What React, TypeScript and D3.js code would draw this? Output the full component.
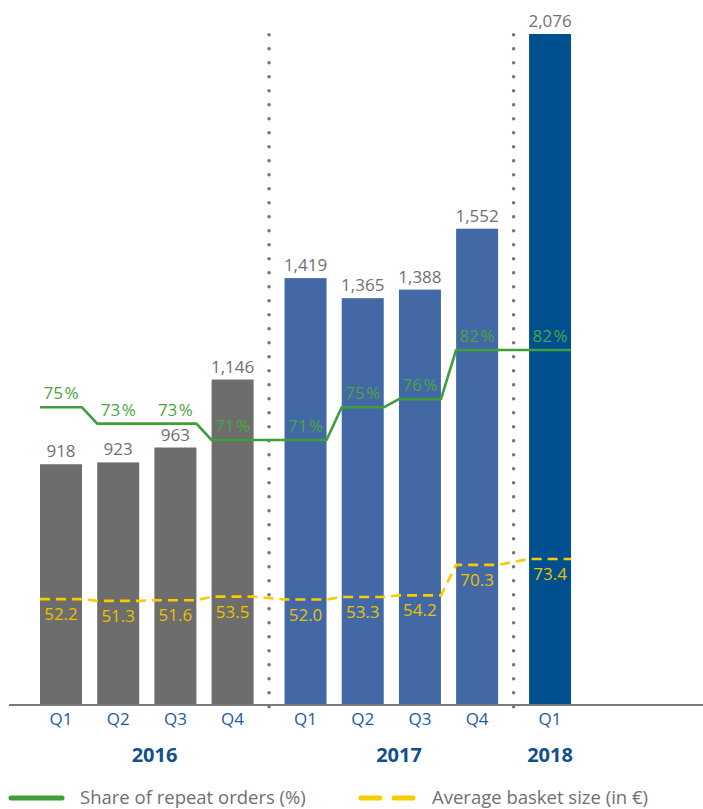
import React from "react";
import * as d3 from "d3";

const quarters = ["Q1", "Q2", "Q3", "Q4", "Q1", "Q2", "Q3", "Q4", "Q1"];
const yearOf = ["2016", "2016", "2016", "2016", "2017", "2017", "2017", "2017", "2018"];
const yearGroups = ["2016", "2017", "2018"];
const orders = [918, 923, 963, 1146, 1419, 1365, 1388, 1552, 2076];
const repeatShare = [75, 73, 73, 71, 71, 75, 76, 82, 82];
const basketSize = [52.2, 51.3, 51.6, 53.5, 52.0, 53.3, 54.2, 70.3, 73.4];
const legendLabels = ["Share of repeat orders (%)", "Average basket size (in €)"];

const W = 703;
const H = 809;
const FONT = "'Open Sans', 'Noto Sans', sans-serif";
const barColors: Record<string, string> = { "2016": "#6d6d6b", "2017": "#4269a5", "2018": "#00508f" };
const GREEN = "#3f9e37";
const GREEN_TEXT = "#4aa444";
const YELLOW = "#f7cc00";
const YELLOW_TEXT = "#e9c200";
const GREY_TEXT = "#707070";
const BLUE_TEXT = "#1d5c9c";
const YEAR_TEXT = "#10508c";

const BASE = 705;
const BAR_W = 42;

// slot index with extra gap between year groups
const slot = (i: number) => i + yearGroups.indexOf(yearOf[i]) * 0.275;
const x = d3.scaleLinear().domain([0, 1]).range([40, 97.2]);
const y = d3.scaleLinear().domain([270, 2076]).range([BASE, 34]);
const yShare = d3.scaleLinear().domain([71, 82]).range([440, 350]);
const yBasket = d3.scaleLinear().domain([52, 73.4]).range([599.5, 559]);
const fmt = d3.format(",");

function stepPath(vals: number[], sc: d3.ScaleLinear<number, number>) {
  const pts: [number, number][] = [];
  vals.forEach((v, i) => {
    const x0 = x(slot(i));
    pts.push([x0, sc(v)]);
    pts.push([x0 + BAR_W, sc(v)]);
  });
  return d3.line()(pts) || "";
}

export default function App() {
  const idx = orders.map((_, i) => i);
  const groupFirst = yearGroups.map((g) => yearOf.indexOf(g));
  const groupLast = yearGroups.map((g) => yearOf.lastIndexOf(g));
  const separators = yearGroups.slice(1).map((_, k) => {
    const a = x(slot(groupLast[k])) + BAR_W;
    const b = x(slot(groupFirst[k + 1]));
    return (a + b) / 2;
  });
  const yearCenter = yearGroups.map((_, k) => {
    const left = x(slot(groupFirst[k]));
    const right = k < separators.length ? separators[k] : x(slot(groupLast[k])) + BAR_W;
    return (left + right) / 2;
  });

  return (
    <svg
      width={W}
      height={H}
      style={{ position: "absolute", left: 0, top: 0, background: "#fff" }}
      fontFamily={FONT}
    >
      {/* bars */}
      {idx.map((i) => (
        <rect
          key={"b" + i}
          x={x(slot(i))}
          y={y(orders[i])}
          width={BAR_W}
          height={BASE - y(orders[i])}
          fill={barColors[yearOf[i]]}
        />
      ))}
      {/* bar value labels */}
      {idx.map((i) => (
        <text
          key={"v" + i}
          x={x(slot(i)) + BAR_W / 2}
          y={y(orders[i]) - 7}
          textAnchor="middle"
          fontSize={17}
          fill={GREY_TEXT}
        >
          {fmt(orders[i])}
        </text>
      ))}
      {/* separators */}
      {separators.map((sx, k) => (
        <path
          key={"s" + k}
          d={`M${sx},34.7L${sx},707`}
          stroke="#777"
          strokeWidth={3.6}
          strokeLinecap="round"
          strokeDasharray="0 14"
        />
      ))}
      {/* axis line */}
      <line x1={9} x2={W} y1={BASE} y2={BASE} stroke="#7a7a7a" strokeWidth={2} />
      {/* lines */}
      <path d={stepPath(repeatShare, yShare)} fill="none" stroke={GREEN} strokeWidth={2.6} strokeLinejoin="round" />
      <path
        d={stepPath(basketSize, yBasket)}
        fill="none"
        stroke={YELLOW}
        strokeWidth={2.6}
        strokeDasharray="10 6"
      />
      {/* share labels */}
      {idx.map((i) => (
        <text
          key={"g" + i}
          x={x(slot(i)) + BAR_W / 2}
          y={yShare(repeatShare[i]) - 8}
          textAnchor="middle"
          fontSize={17}
          fill={GREEN_TEXT}
        >
          {repeatShare[i]}
          <tspan dx={1.5}>%</tspan>
        </text>
      ))}
      {/* basket labels */}
      {idx.map((i) => (
        <text
          key={"y" + i}
          x={x(slot(i)) + BAR_W / 2}
          y={yBasket(basketSize[i]) + 21}
          textAnchor="middle"
          fontSize={17}
          fill={YELLOW_TEXT}
        >
          {basketSize[i].toFixed(1)}
        </text>
      ))}
      {/* quarter labels */}
      {idx.map((i) => (
        <text
          key={"q" + i}
          x={x(slot(i)) + BAR_W / 2}
          y={725}
          textAnchor="middle"
          fontSize={17}
          fill={BLUE_TEXT}
        >
          {quarters[i]}
        </text>
      ))}
      {/* year labels */}
      {yearGroups.map((g, k) => (
        <text
          key={"yr" + g}
          x={yearCenter[k]}
          y={762}
          textAnchor="middle"
          fontSize={20}
          fontWeight="bold"
          fill={YEAR_TEXT}
        >
          {g}
        </text>
      ))}
      {/* legend */}
      <line x1={11} x2={62} y1={798} y2={798} stroke={GREEN} strokeWidth={5} strokeLinecap="round" />
      <text x={80} y={804} fontSize={18.5} fill={GREY_TEXT}>
        {legendLabels[0]}
      </text>
      <line
        x1={361}
        x2={416}
        y1={798}
        y2={798}
        stroke={YELLOW}
        strokeWidth={5}
        strokeLinecap="round"
        strokeDasharray="19 14"
      />
      <text x={432} y={804} fontSize={18.5} fill={GREY_TEXT}>
        {legendLabels[1]}
      </text>
    </svg>
  );
}
